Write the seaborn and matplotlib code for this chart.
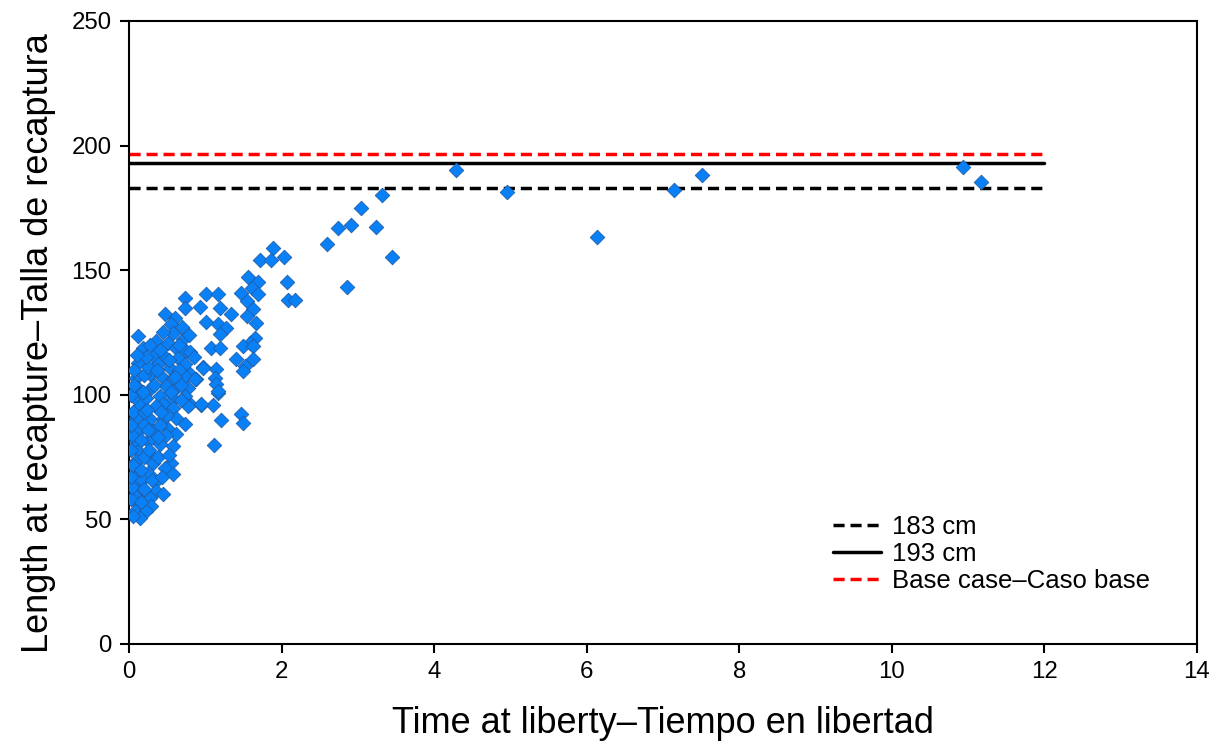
import numpy as np
import pandas as pd
import matplotlib
matplotlib.use("Agg")
import matplotlib.pyplot as plt
import seaborn as sns

# Datos: tiempo en libertad (años) y talla de recaptura (cm)
tiempo_lejos = [4.29, 4.95, 6.14, 7.15, 7.51, 10.94, 11.17, 3.31, 3.04, 2.91, 3.24, 2.74, 2.59, 3.45, 2.86]
talla_lejos = [190.2, 181.4, 163.3, 182.2, 188.2, 191.4, 185.4, 180.2, 175.0, 168.0, 167.3, 167.0, 160.5, 155.3, 143.3]

tiempo_medio = [1.89, 1.72, 1.86, 2.03, 2.07, 2.09, 2.18, 1.56, 1.69, 1.47, 1.61, 1.69, 1.54, 1.63, 1.54,
                1.67, 1.65, 1.59, 1.50, 1.63, 1.40, 1.52, 1.63, 1.50, 1.47, 1.50]
talla_medio = [158.9, 154.1, 154.1, 155.3, 145.3, 138.0, 138.0, 147.3, 145.3, 140.9, 142.9, 140.4, 137.6, 134.4, 131.6,
               128.8, 122.8, 120.8, 119.6, 119.6, 114.4, 111.6, 114.4, 109.6, 92.3, 88.7]

tiempo_uno = [0.73, 1.01, 1.17, 0.73, 0.93, 1.19, 1.34, 1.01, 1.17, 1.27, 1.19, 1.08, 1.19, 0.97, 1.14,
              1.13, 1.14, 1.17, 0.80, 0.88, 0.80, 0.94, 1.10, 1.21, 1.12]
talla_uno = [138.8, 140.4, 140.4, 134.8, 135.2, 134.8, 132.4, 129.2, 128.4, 126.8, 124.4, 118.8, 118.8, 111.2, 110.4,
             106.7, 104.3, 100.7, 108.3, 106.3, 96.3, 95.9, 95.9, 89.9, 79.9]

tiempo_denso = [0.47, 0.60, 0.55, 0.58, 0.12, 0.35, 0.51, 0.71, 0.18, 0.62, 0.75, 0.31, 0.49, 0.64, 0.12,
                0.38, 0.54, 0.73, 0.97, 0.09, 0.28, 0.42, 0.58, 0.73, 0.87, 0.12, 0.29, 0.49, 0.62, 0.77,
                1.17, 0.08, 0.22, 0.41, 0.58, 0.73, 0.94, 0.45,
                0.14, 0.35, 0.58, 0.77, 0.09, 0.28, 0.45, 0.62, 0.73, 0.12, 0.31, 0.51, 0.62, 0.09, 0.25,
                0.41, 0.58, 0.12, 0.28, 0.55, 0.09, 0.31, 0.47, 0.09, 0.25, 0.58, 0.12, 0.35, 0.18, 0.35,
                0.45, 0.08, 0.28, 0.12, 0.29, 0.08, 0.22, 0.14, 0.05,
                0.03, 0.04, 0.02, 0.05, 0.03, 0.04, 0.02, 0.05, 0.03, 0.15, 0.17, 0.20, 0.16, 0.19, 0.20,
                0.18, 0.20, 0.25, 0.22, 0.28, 0.40, 0.44, 0.52, 0.66, 0.68, 0.50, 0.40, 0.38, 0.48, 0.66,
                0.70, 0.80, 0.85, 0.78, 0.42, 0.24, 0.33, 0.36, 0.55, 0.60, 0.68, 0.25, 0.20, 0.30, 0.26,
                0.38, 0.52, 0.43, 0.15, 0.07, 0.10, 0.06]
talla_denso = [132.4, 130.8, 128.4, 124.8, 123.6, 121.6, 120.8, 122.4, 118.8, 118.8, 117.6, 115.6, 114.8, 114.8, 112.8,
               112.4, 110.8, 112.4, 110.8, 106.7, 108.3, 107.5, 106.7, 107.5, 106.3, 102.7, 102.7, 103.5, 102.7, 102.7,
               101.5, 98.7, 98.7, 99.5, 98.3, 99.5, 96.3, 96.3,
               95.5, 95.5, 94.7, 95.5, 90.7, 90.3, 90.3, 90.7, 88.3, 85.5, 85.5, 86.3, 84.3, 81.5, 81.5,
               80.3, 79.5, 77.4, 76.2, 72.6, 73.4, 72.6, 70.6, 68.6, 68.6, 68.2, 64.6, 65.4, 62.2, 61.4,
               60.2, 59.4, 58.6, 56.2, 55.4, 53.4, 53.4, 50.6, 51.4,
               58.0, 63.0, 67.0, 72.0, 78.0, 84.0, 88.0, 93.0, 100.0, 57.0, 66.0, 75.0, 82.0, 88.0, 93.0,
               101.0, 108.0, 111.0, 115.0, 120.0, 118.0, 125.0, 114.0, 110.0, 98.0, 92.0, 88.0, 75.0, 84.0, 120.0,
               127.0, 117.0, 115.0, 124.0, 93.0, 94.0, 104.0, 110.0, 101.0, 107.0, 104.0, 86.0, 62.0, 66.0, 78.0,
               83.0, 76.0, 67.0, 70.0, 110.0, 116.0, 104.0]

# Líneas de referencia
niveles = [183, 193, 196.5]
etiquetas = ["183 cm", "193 cm", "Base case\u2013Caso base"]
colores = ["black", "black", "#ff0000"]
estilos = ["dashed", "solid", "dashed"]
x_fin_lineas = 12

df = pd.DataFrame({
    "tiempo": tiempo_lejos + tiempo_medio + tiempo_uno + tiempo_denso,
    "talla": talla_lejos + talla_medio + talla_uno + talla_denso,
})

sns.set_style("white")
plt.rcParams["font.family"] = ["Liberation Sans", "DejaVu Sans"]
plt.rcParams.update({"text.color": "black", "axes.labelcolor": "black",
                     "xtick.color": "black", "ytick.color": "black"})

fig = plt.figure(figsize=(12.21, 7.49), dpi=100)
ax = fig.add_axes([0.1057, 0.1402, 0.8745, 0.8318])

sns.scatterplot(data=df, x="tiempo", y="talla", marker="D", s=55,
                color="#0a80f6", edgecolor="#1f5ea8", linewidth=0.6, ax=ax, zorder=3)

handles = []
for nivel, etq, col, est in zip(niveles, etiquetas, colores, estilos):
    ln, = ax.plot([0, x_fin_lineas], [nivel, nivel], color=col, lw=2.5, label=etq, zorder=2)
    if est == "dashed":
        ln.set_dashes((3.2, 1.7))
    handles.append(ln)

ax.set_xlim(0, 14)
ax.set_ylim(0, 250)
ax.set_xticks(np.arange(0, 15, 2))
ax.set_yticks(np.arange(0, 251, 50))
ax.tick_params(axis="both", direction="out", length=6.5, width=1.5, labelsize=17.3, pad=6,
               bottom=True, left=True)

for sp in ax.spines.values():
    sp.set_color("black")
    sp.set_linewidth(1.5)

ax.set_xlabel("Time at liberty\u2013Tiempo en libertad", fontsize=26, labelpad=16)
ax.set_ylabel("Length at recapture\u2013Talla de recaptura", fontsize=26, labelpad=11)
ax.yaxis.label.set_y(0.483)

ax.legend(handles=handles, loc="upper left", bbox_to_anchor=(0.6595, 0.2075), frameon=False,
          fontsize=18.5, handlelength=1.85, handletextpad=0.42, labelspacing=0.12,
          borderaxespad=0, borderpad=0)

fig.savefig("out.png", dpi=100)
